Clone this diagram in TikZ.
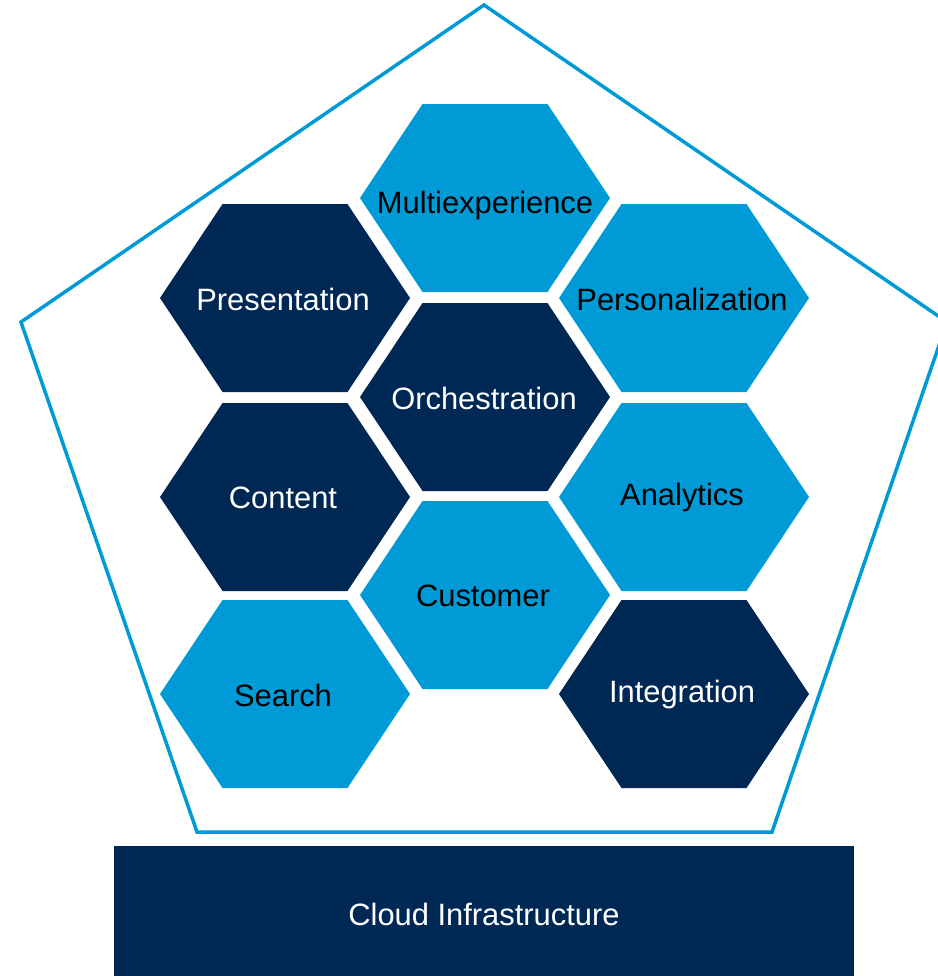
\documentclass[tikz,border=0pt]{standalone}
\usepackage{fontspec}
\setmainfont{Liberation Sans}
\definecolor{navy}{RGB}{0,40,85}
\definecolor{sky}{RGB}{0,155,214}
\begin{document}
\begin{tikzpicture}[x=1bp,y=-1bp,
  hexcell/.pic={\path[pic actions] (-125,0) -- (-62.5,-94) -- (62.5,-94) -- (125,0) -- (62.5,94) -- (-62.5,94) -- cycle;},
  darkhex/.style={fill=navy},
  lighthex/.style={fill=sky},
  darklabel/.style={text=white,font=\fontsize{31}{36}\selectfont},
  lightlabel/.style={text=black,font=\fontsize{31}{36}\selectfont},
  frame/.style={draw=sky,line width=3.5bp,line join=miter}]
\useasboundingbox (0,0) rectangle (938,976);
\clip (0,0) rectangle (938,976);
% pentagon frame
\coordinate (ptop) at (484,5);
\coordinate (pleft) at (21,322);
\coordinate (pright) at (947,322);
\coordinate (pbl) at (197,832);
\coordinate (pbr) at (772,832);
\draw[frame] (ptop) -- (pright) -- (pbr) -- (pbl) -- (pleft) -- cycle;
% hexagons
\pic[darkhex] at (285,298) {hexcell};
\node[darklabel] (pres) at (283,299) {Presentation};
\pic[lighthex] at (485,198) {hexcell};
\node[lightlabel] (multi) at (485,206) {Multiexperience};
\pic[lighthex] at (684,298) {hexcell};
\node[lightlabel] (pers) at (682,299) {Personalization};
\pic[darkhex] at (485,397) {hexcell};
\node[darklabel] (orch) at (484,398) {Orchestration};
\pic[darkhex] at (285,497) {hexcell};
\node[darklabel] (cont) at (283,498) {Content};
\pic[lighthex] at (684,497) {hexcell};
\node[lightlabel] (anal) at (682,498) {Analytics};
\pic[lighthex] at (485,595) {hexcell};
\node[lightlabel] (cust) at (483,596) {Customer};
\pic[lighthex] at (285,694) {hexcell};
\node[lightlabel] (search) at (283,695) {Search};
\pic[darkhex] at (684,694) {hexcell};
\node[darklabel] (integ) at (682,695) {Integration};
% base
\fill[navy] (114,846) rectangle (854,980);
\node[darklabel] (cloud) at (484,914) {Cloud Infrastructure};
\end{tikzpicture}
\end{document}
